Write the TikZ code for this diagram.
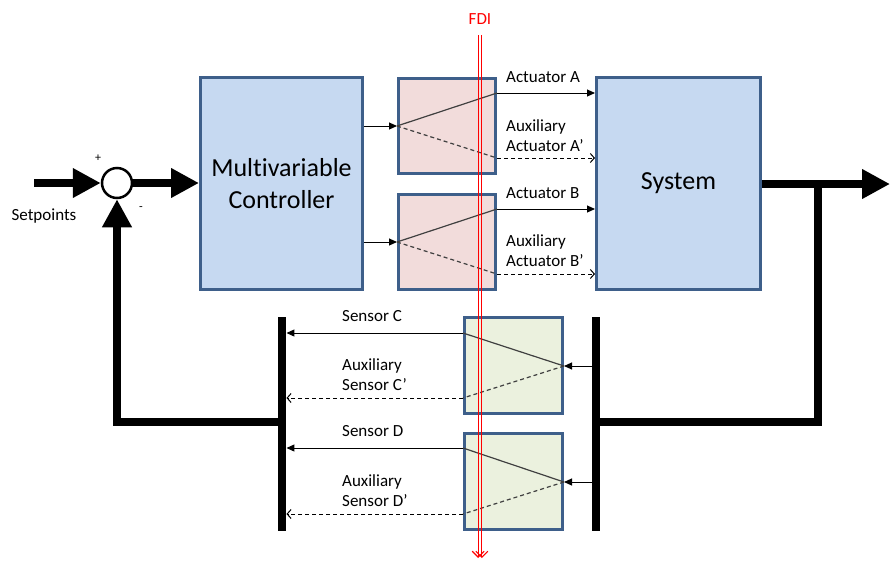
\documentclass[tikz,border=0pt]{standalone}
\usepackage{fontspec}
\setmainfont[Ligatures=NoCommon]{Carlito}
\usetikzlibrary{arrows.meta}
\definecolor{bluefill}{HTML}{C6D9F1}
\definecolor{boxedge}{HTML}{3E5F8A}
\definecolor{pinkfill}{HTML}{F2DCDB}
\definecolor{greenfill}{HTML}{EBF1DE}
\definecolor{fdired}{HTML}{FF0000}
\tikzset{
  block/.style={draw=boxedge, line width=2.7pt, inner sep=0pt, align=center},
  bigblock/.style={block, fill=bluefill, font=\fontsize{26}{32}\selectfont},
  actbox/.style={block, fill=pinkfill, minimum width=97.3pt, minimum height=95.3pt},
  senbox/.style={block, fill=greenfill, minimum width=98.3pt, minimum height=96.3pt},
  bus/.style={fill=black, inner sep=0pt, minimum width=8.5pt, minimum height=214pt},
  thickl/.style={line width=8.5pt, line join=miter},
  thickarr/.style={thickl, -{Triangle[length=28pt,width=28pt]}},
  sig/.style={line width=1pt, -{Triangle[length=8pt,width=7pt]}},
  aux/.style={line width=1pt, dash pattern=on 4pt off 3pt, -{Straight Barb[length=4pt,width=9pt]}},
  swline/.style={line width=1.2pt, draw=black!75},
  swdash/.style={line width=1.2pt, draw=black!75, dash pattern=on 4pt off 3pt},
  lbl/.style={font=\fontsize{17}{20}\selectfont, align=left, anchor=west, inner sep=0pt},
  fdiline/.style={draw=fdired, line width=1.1pt, -{Straight Barb[length=6pt,width=12pt]}}
}
\begin{document}
\begin{tikzpicture}[x=1pt,y=-1pt]
\useasboundingbox (0,0) rectangle (890,560);
% blocks
\node[bigblock, minimum width=162.3pt, minimum height=212.3pt] (ctrl) at (281.5,183.5) {Multivariable\\Controller};
\node[bigblock, minimum width=164.3pt, minimum height=212.3pt] (sys) at (678.5,183.5) {System};
\node[actbox] (actA) at (447,126) {};
\node[actbox] (actB) at (447,242) {};
\node[senbox] (senC) at (513.5,365.5) {};
\node[senbox] (senD) at (513.5,481.5) {};
\node[bus] (lbus) at (282,424) {};
\node[bus] (rbus) at (596,424) {};
\node[draw=black, fill=white, circle, line width=2.5pt, minimum size=30pt, inner sep=0pt] (sum) at (117,183) {};
% coordinates
\coordinate (inStart) at (34,183);
\coordinate (branch) at (818,184);
\coordinate (fbR) at (818,422);
\coordinate (fbL) at (117,422);
\coordinate (outEnd) at (890,184);
\coordinate (aAs) at (497,93);
\coordinate (aAd) at (497,158);
\coordinate (aBs) at (497,209);
\coordinate (aBd) at (497,274);
\coordinate (sCin) at (564,366);
\coordinate (sCs) at (463,333);
\coordinate (sCd) at (463,398);
\coordinate (sDin) at (564,482);
\coordinate (sDs) at (463,448);
\coordinate (sDd) at (463,514);
% thick loop
\draw[thickarr] (inStart) -- (sum.west);
\draw[thickarr] (sum.east) -- (ctrl.west |- sum.east);
\draw[thickarr] (sys.east |- branch) -- (outEnd);
\draw[thickl] (branch) -- (fbR) -- (rbus.center |- fbR);
\draw[thickarr] (lbus.center |- fbL) -- (fbL) -- (sum.south);
% actuators
\draw[sig] (ctrl.east |- actA.west) -- (actA.west);
\draw[sig] (ctrl.east |- actB.west) -- (actB.west);
\draw[swline] (actA.west) -- (aAs);
\draw[swdash] (actA.west) -- (aAd);
\draw[swline] (actB.west) -- (aBs);
\draw[swdash] (actB.west) -- (aBd);
\draw[sig] (aAs) -- (sys.west |- aAs);
\draw[aux] (aAd) -- (sys.west |- aAd);
\draw[sig] (aBs) -- (sys.west |- aBs);
\draw[aux] (aBd) -- (sys.west |- aBd);
% sensors
\draw[sig] (rbus.west |- sCin) -- (sCin);
\draw[sig] (rbus.west |- sDin) -- (sDin);
\draw[swline] (sCin) -- (sCs);
\draw[swdash] (sCin) -- (sCd);
\draw[swline] (sDin) -- (sDs);
\draw[swdash] (sDin) -- (sDd);
\draw[sig] (sCs) -- (lbus.east |- sCs);
\draw[aux] (sCd) -- (lbus.east |- sCd);
\draw[sig] (sDs) -- (lbus.east |- sDs);
\draw[aux] (sDd) -- (lbus.east |- sDd);
% labels
\node[lbl] (lA) at (506,77) {Actuator A};
\node[lbl] (lAx) at (506,136) {Auxiliary\\Actuator A’};
\node[lbl] (lB) at (506,193) {Actuator B};
\node[lbl] (lBx) at (506,251) {Auxiliary\\Actuator B’};
\node[lbl] (lC) at (342,316) {Sensor C};
\node[lbl] (lCx) at (342,375) {Auxiliary\\Sensor C’};
\node[lbl] (lD) at (342,431) {Sensor D};
\node[lbl] (lDx) at (342,491) {Auxiliary\\Sensor D’};
\node[font=\fontsize{17}{20}\selectfont] (setp) at (44,216) {Setpoints};
\node[font=\fontsize{12}{14}\selectfont] (plus) at (98,158) {+};
\node[font=\fontsize{12}{14}\selectfont] (minus) at (141,209) {-};
% FDI
\node[font=\fontsize{17}{20}\selectfont, text=fdired] (fdi) at (480,19) {FDI};
\coordinate (fdiTop) at (480,35);
\coordinate (fdiBot) at (480,558);
\draw[fdiline] ([xshift=-1.8pt]fdiTop) -- ([xshift=-1.8pt]fdiBot);
\draw[fdiline] ([xshift=1.8pt]fdiTop) -- ([xshift=1.8pt]fdiBot);
\end{tikzpicture}
\end{document}
